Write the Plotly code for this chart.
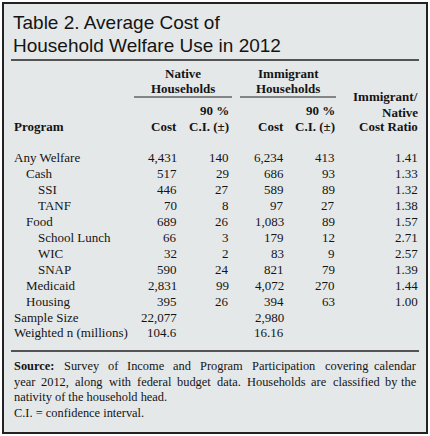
import plotly.graph_objects as go

W, H = 430, 436

# ---- data ----
programs = ["Any Welfare", "Cash", "SSI", "TANF", "Food", "School Lunch", "WIC", "SNAP", "Medicaid", "Housing"]
levels = [0, 1, 2, 2, 1, 2, 2, 2, 1, 1]
native_cost = ["4,431", "517", "446", "70", "689", "66", "32", "590", "2,831", "395"]
native_ci = ["140", "29", "27", "8", "26", "3", "2", "24", "99", "26"]
imm_cost = ["6,234", "686", "589", "97", "1,083", "179", "83", "821", "4,072", "394"]
imm_ci = ["413", "93", "89", "27", "89", "12", "9", "79", "270", "63"]
ratio = ["1.41", "1.33", "1.32", "1.38", "1.57", "2.71", "2.57", "1.39", "1.44", "1.00"]
extra_labels = ["Sample Size", "Weighted n (millions)"]
extra_native = ["22,077", "104.6"]
extra_imm = ["2,980", "16.16"]

title_lines = ["Table 2. Average Cost of", "Household Welfare Use in 2012"]
source_lines = [
    "Source: Survey of Income and Program Participation covering calendar",
    "year 2012, along with federal budget data. Households are classified by the",
    "nativity of the household head.",
    "C.I. = confidence interval.",
]
source_justified = [True, True, False, False]

SERIF = "Liberation Serif"
SANS = "Liberation Sans"
TXT = "#141414"

# approximate Times advance widths (1/1000 em) used to justify the source note
TW = {}
for ch, w in zip("abcdefghijklmnopqrstuvwxyz",
                 [444, 500, 444, 500, 444, 333, 500, 500, 278, 278, 500, 278, 778, 500, 500, 500,
                  500, 333, 389, 278, 500, 500, 722, 500, 500, 444]):
    TW[ch] = w
for ch, w in zip("ABCDEFGHIJKLMNOPQRSTUVWXYZ",
                 [722, 667, 667, 722, 611, 556, 722, 722, 333, 389, 722, 611, 889, 722, 722, 556,
                  722, 667, 556, 611, 722, 722, 944, 722, 722, 611]):
    TW[ch] = w
for ch in "0123456789":
    TW[ch] = 500
TW.update({".": 250, ",": 250, ":": 278, "=": 564, "(": 333, ")": 333, " ": 250})
TWB = {"S": 556, "o": 500, "u": 556, "r": 444, "c": 444, "e": 444, ":": 333}


def word_w(word, size, bold=False):
    tab = TWB if bold else TW
    return sum(tab.get(c, TW.get(c, 500)) for c in word) * size / 1000.0


def px(x):
    return x / W


def py(y):
    return 1 - y / H


ann = []


def text(x, y, s, anchor="left", size=13, family=SERIF, bold=False):
    if bold:
        s = "<b>" + s + "</b>"
    ann.append(dict(x=px(x), y=py(y), xref="paper", yref="paper", text=s, showarrow=False,
                    xanchor=anchor, yanchor="middle", align=anchor, borderpad=0,
                    font=dict(family=family, size=size, color=TXT)))


# title
text(12, 23, title_lines[0], size=19, family=SANS)
text(12, 45, title_lines[1], size=19, family=SANS)

# headers
text(183, 73, "Native", "center", bold=True)
text(183, 88, "Households", "center", bold=True)
text(288, 73, "Immigrant", "center", bold=True)
text(288, 88, "Households", "center", bold=True)
text(419, 97, "Immigrant/", "right", bold=True)
text(419, 112, "Native", "right", bold=True)
text(419, 127, "Cost Ratio", "right", bold=True)
text(230, 111, "90 %", "right", bold=True)
text(336, 111, "90 %", "right", bold=True)
text(13, 127, "Program", "left", bold=True)
text(178, 127, "Cost", "right", bold=True)
text(230, 127, "C.I. (±)", "right", bold=True)
text(285, 127, "Cost", "right", bold=True)
text(336, 127, "C.I. (±)", "right", bold=True)

# body rows
y0, dy = 158, 15.9
indent = {0: 13, 1: 25, 2: 37}
for i, p in enumerate(programs):
    y = y0 + i * dy
    text(indent[levels[i]], y, p)
    text(178, y, native_cost[i], "right")
    text(230, y, native_ci[i], "right")
    text(285, y, imm_cost[i], "right")
    text(336, y, imm_ci[i], "right")
    text(419, y, ratio[i], "right")
for j, lab in enumerate(extra_labels):
    y = y0 + (len(programs) + j) * dy
    text(13, y, lab)
    text(178, y, extra_native[j], "right")
    text(285, y, extra_imm[j], "right")

# source note (first two lines justified word by word)
SZ = 12.4
LEFT, RIGHT = 13, 418
for k, s in enumerate(source_lines):
    y = 366 + k * 15.7
    if not source_justified[k]:
        text(LEFT, y, s, size=SZ)
        continue
    words = s.split(" ")
    bolds = [k == 0 and wi == 0 for wi in range(len(words))]
    widths = [word_w(w_, SZ, b) for w_, b in zip(words, bolds)]
    gap = (RIGHT - LEFT - sum(widths)) / (len(words) - 1)
    x = LEFT
    for wi, (w_, b, wd) in enumerate(zip(words, bolds, widths)):
        if wi == len(words) - 1:
            text(RIGHT, y, w_, "right", size=SZ, bold=b)
        else:
            text(x, y, w_, "left", size=SZ, bold=b)
        x += wd + gap

shapes = [
    dict(type="rect", xref="paper", yref="paper", x0=px(3), x1=px(427), y0=py(433), y1=py(3),
         fillcolor="#e5e8e9", line=dict(color="#222222", width=2), layer="below"),
    dict(type="line", xref="paper", yref="paper", x0=px(11), x1=px(419), y0=py(60), y1=py(60),
         line=dict(color="#222222", width=1.3)),
    dict(type="line", xref="paper", yref="paper", x0=px(134), x1=px(232), y0=py(97), y1=py(97),
         line=dict(color="#222222", width=1)),
    dict(type="line", xref="paper", yref="paper", x0=px(240), x1=px(336), y0=py(97), y1=py(97),
         line=dict(color="#222222", width=1)),
    dict(type="line", xref="paper", yref="paper", x0=px(11), x1=px(419), y0=py(351), y1=py(351),
         line=dict(color="#222222", width=1.3)),
]

fig = go.Figure()
fig.update_layout(width=W, height=H, margin=dict(l=0, r=0, t=0, b=0),
                  paper_bgcolor="white", plot_bgcolor="white",
                  xaxis=dict(visible=False), yaxis=dict(visible=False),
                  annotations=ann, shapes=shapes, showlegend=False)
fig.write_html("out.html", config={"displayModeBar": False},
               post_script="document.body.style.margin='0';document.body.style.overflow='hidden';")
